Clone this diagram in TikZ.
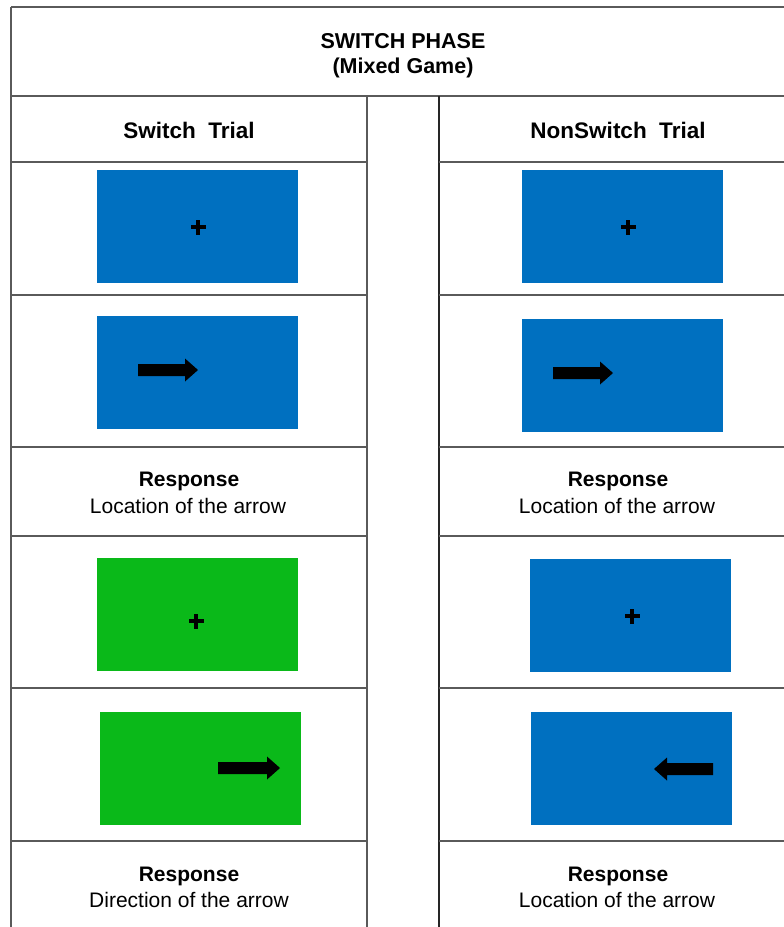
\documentclass[tikz,border=0pt]{standalone}
\usepackage{fontspec}
\setmainfont{Liberation Sans}
\definecolor{scrblue}{RGB}{0,112,192}
\definecolor{scrgreen}{RGB}{10,185,25}
\definecolor{rule}{RGB}{90,90,90}
\newcommand{\rarr}[3]{\fill[black] ({#1},{#3-6}) -- ({#2-13},{#3-6}) -- ({#2-13},{#3-11.5}) -- ({#2},{#3}) -- ({#2-13},{#3+11.5}) -- ({#2-13},{#3+6}) -- ({#1},{#3+6}) -- cycle;}
\newcommand{\larr}[3]{\fill[black] ({#1},{#3-6}) -- ({#2+13},{#3-6}) -- ({#2+13},{#3-11.5}) -- ({#2},{#3}) -- ({#2+13},{#3+11.5}) -- ({#2+13},{#3+6}) -- ({#1},{#3+6}) -- cycle;}
\newcommand{\fixplus}[2]{\fill[black] ({#1-7.5},{#2-2.4}) rectangle ({#1+7.5},{#2+2.4}); \fill[black] ({#1-2.4},{#2-7.5}) rectangle ({#1+2.4},{#2+7.5});}
\begin{document}
\begin{tikzpicture}[x=1pt,y=-1pt,
  gridline/.style={draw=rule,line width=1.5pt},
  darkline/.style={draw=black!85,line width=1.5pt},
  screen/.style={minimum width=201pt,minimum height=113pt,inner sep=0pt,draw=none},
  title/.style={font=\fontsize{21.5}{26}\selectfont\bfseries,anchor=base,inner sep=0pt},
  head/.style={font=\fontsize{22.5}{26}\selectfont\bfseries,anchor=base,inner sep=0pt},
  resp/.style={font=\fontsize{21}{26}\selectfont\bfseries,anchor=base,inner sep=0pt},
  desc/.style={font=\fontsize{21}{26}\selectfont,anchor=base,inner sep=0pt}]
\useasboundingbox[fill=white] (0,0) rectangle (784,927);
% grid lines
\draw[gridline] (11,7) -- (784,7);
\draw[gridline] (11,7) -- (11,927);
\draw[gridline] (11,96) -- (784,96);
\draw[gridline] (367,96) -- (367,927);
\draw[darkline] (439,96) -- (439,927);
\foreach \yy in {162,295,447,536,688,841}{
  \draw[gridline] (11,\yy) -- (367,\yy);
  \draw[gridline] (439,\yy) -- (784,\yy);
}
% title
\node[title] (t1) at (403,48) {SWITCH PHASE};
\node[title] (t2) at (403,73) {(Mixed Game)};
% headers
\node[head] (hl) at (189,138) {Switch\ \ Trial};
\node[head] (hr) at (618,138) {NonSwitch\ \ Trial};
% left column screens
\node[screen,fill=scrblue] (l1) at (197.5,226.5) {};
\fixplus{198}{227}
\node[screen,fill=scrblue] (l2) at (197.5,372) {};
\rarr{138}{198}{370}
\node[resp] (lr1) at (189,486) {Response};
\node[desc] (ld1) at (188,513) {Location of the arrow};
\node[screen,fill=scrgreen] (l3) at (197.5,614) {};
\fixplus{196}{621}
\node[screen,fill=scrgreen] (l4) at (200,768.5) {};
\rarr{218}{280}{768}
\node[resp] (lr2) at (189,881) {Response};
\node[desc] (ld2) at (189,907) {Direction of the arrow};
% right column screens
\node[screen,fill=scrblue] (r1) at (622,226) {};
\fixplus{628}{227}
\node[screen,fill=scrblue] (r2) at (622,375.5) {};
\rarr{553}{613}{373}
\node[resp] (rr1) at (618,486) {Response};
\node[desc] (rd1) at (617,513) {Location of the arrow};
\node[screen,fill=scrblue] (r3) at (630,615) {};
\fixplus{632}{616}
\node[screen,fill=scrblue] (r4) at (631,768.5) {};
\larr{713}{654}{769}
\node[resp] (rr2) at (618,881) {Response};
\node[desc] (rd2) at (617,907) {Location of the arrow};
\end{tikzpicture}
\end{document}
